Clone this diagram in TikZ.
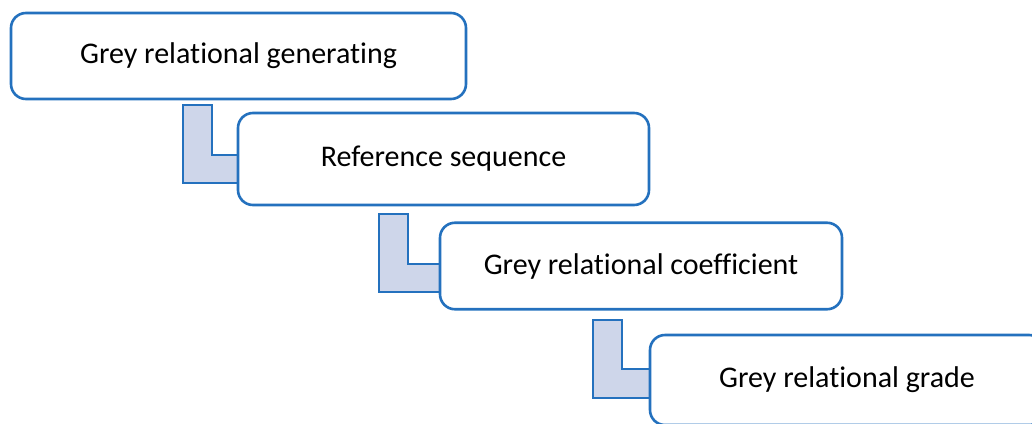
\documentclass[tikz,border=0pt]{standalone}
\usepackage{fontspec}
\setmainfont[Ligatures=NoCommon]{Carlito}
\usetikzlibrary{calc}
\definecolor{boxblue}{RGB}{36,113,190}
\definecolor{lfill}{RGB}{206,214,234}
\tikzset{
  stepbox/.style={draw=boxblue, line width=2.6pt, fill=white, rounded corners=15pt,
    rectangle, inner sep=0pt, font=\fontsize{30}{36}\selectfont},
  elbow/.style={draw=boxblue, line width=2.2pt, fill=lfill, line join=miter}
}
\begin{document}
\begin{tikzpicture}[x=1pt,y=-1pt]
\useasboundingbox (0,0) rectangle (1032,423);
\clip (0,0) rectangle (1032,423);
% elbows (drawn first, boxes cover their right ends)
\coordinate (e1) at (183,105);
\coordinate (e2) at (379,214);
\coordinate (e3) at (593,320);
\node[stepbox, minimum width=455pt, minimum height=86pt] (b1) at (238.5,56) {Grey relational generating};
\draw[elbow] (e1) -- ++(29,0) -- ++(0,50) -- (240,155) -- (240,183) -- (e1 |- 0,183) -- cycle;
\draw[elbow] (e2) -- ++(29,0) -- ++(0,50) -- (442,264) -- (442,292) -- (e2 |- 0,292) -- cycle;
\draw[elbow] (e3) -- ++(29,0) -- ++(0,49) -- (652,369) -- (652,398) -- (e3 |- 0,398) -- cycle;
\node[stepbox, minimum width=411pt, minimum height=92pt] (b2) at (443.5,159) {Reference sequence};
\node[stepbox, minimum width=402pt, minimum height=86.5pt] (b3) at (641,266) {Grey relational coefficient};
\node[stepbox, minimum width=394pt, minimum height=90pt] (b4) at (847,380) {Grey relational grade};
\end{tikzpicture}
\end{document}
